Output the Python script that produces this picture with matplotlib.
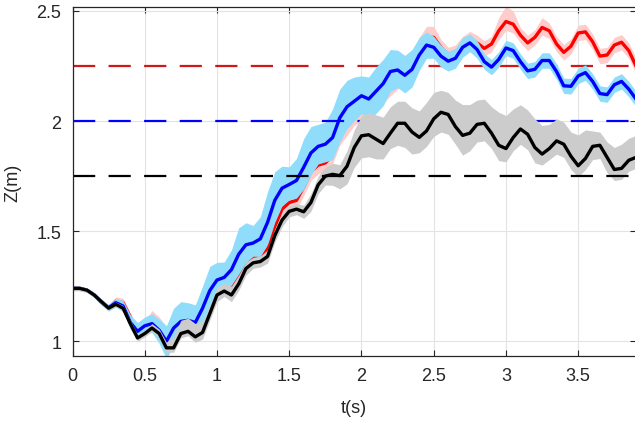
import numpy as np
import matplotlib
matplotlib.use("Agg")
import matplotlib.pyplot as plt

plt.rcParams['font.family'] = ['Liberation Sans', 'DejaVu Sans']

# sample grid (s), 0.05 s step
t = np.round(np.arange(79) * 0.05, 2)

# mean heights (m)
z_red = [1.240, 1.240, 1.232, 1.210, 1.178, 1.152, 1.182, 1.175, 1.110, 1.040,
         1.060, 1.110, 1.080, 1.035, 1.040, 1.080, 1.085, 1.060, 1.090, 1.170,
         1.240, 1.255, 1.245, 1.290, 1.345, 1.380, 1.385, 1.420, 1.520, 1.600,
         1.630, 1.640, 1.700, 1.770, 1.800, 1.810, 1.845, 1.930, 1.985, 2.030,
         2.050, 2.060, 2.085, 2.130, 2.165, 2.195, 2.215, 2.260, 2.330, 2.380,
         2.380, 2.335, 2.300, 2.310, 2.350, 2.372, 2.355, 2.330, 2.350, 2.410,
         2.452, 2.440, 2.390, 2.355, 2.380, 2.425, 2.410, 2.350, 2.312, 2.340,
         2.400, 2.405, 2.360, 2.295, 2.300, 2.345, 2.358, 2.320, 2.250]
z_blue = [1.240, 1.240, 1.232, 1.210, 1.178, 1.152, 1.175, 1.160, 1.085, 1.045,
          1.070, 1.080, 1.050, 1.000, 1.060, 1.090, 1.095, 1.085, 1.150, 1.230,
          1.278, 1.290, 1.325, 1.395, 1.438, 1.446, 1.465, 1.540, 1.640, 1.695,
          1.712, 1.730, 1.790, 1.855, 1.885, 1.895, 1.925, 2.015, 2.065, 2.090,
          2.115, 2.100, 2.135, 2.170, 2.225, 2.232, 2.208, 2.235, 2.300, 2.345,
          2.335, 2.295, 2.272, 2.285, 2.335, 2.355, 2.325, 2.270, 2.245, 2.280,
          2.332, 2.320, 2.270, 2.228, 2.235, 2.275, 2.275, 2.225, 2.160, 2.158,
          2.205, 2.220, 2.180, 2.125, 2.120, 2.165, 2.180, 2.145, 2.100]
z_black = [1.240, 1.240, 1.232, 1.210, 1.180, 1.150, 1.168, 1.150, 1.080, 1.015,
           1.035, 1.060, 1.035, 0.970, 0.970, 1.035, 1.045, 1.020, 1.040, 1.125,
           1.210, 1.228, 1.210, 1.260, 1.330, 1.356, 1.362, 1.385, 1.480, 1.550,
           1.590, 1.600, 1.588, 1.630, 1.710, 1.750, 1.758, 1.752, 1.795, 1.880,
           1.933, 1.938, 1.918, 1.898, 1.945, 1.990, 1.990, 1.950, 1.926, 1.955,
           2.010, 2.040, 2.030, 1.975, 1.935, 1.945, 1.985, 1.990, 1.945, 1.890,
           1.875, 1.925, 1.964, 1.940, 1.880, 1.850, 1.875, 1.910, 1.895, 1.840,
           1.797, 1.830, 1.885, 1.890, 1.835, 1.780, 1.785, 1.822, 1.835]

# band extents above / below each mean
red_up = [.01] * 6 + [.02] * 4 + [.03] * 10 + [.04] * 18 + [.05] * 13 \
    + [.035] * 8 + [.06, .07, .06] + [.035] * 3 + [.045] + [.035] * 13
red_dn = [.01] * 6 + [.02] * 4 + [.03] * 10 + [.04] * 18 + [.05] * 13 \
    + [.035] * 8 + [.04, .04, .04] + [.035] * 17
blue_up = [.010, .010, .010, .012, .015, .015, .020, .025, .035, .040,
           .040, .045, .050, .070, .090, .090, .080, .080, .100, .110,
           .080, .070, .090, .120, .100, .080, .100, .140, .130, .100,
           .080, .100, .130, .120, .100, .100, .130, .130, .120, .110,
           .090, .100, .110, .110, .100, .090, .090, .090, .080, .060,
           .050, .050, .045, .045, .045, .040, .040] + [.035] * 22
blue_dn = [.010, .010, .010, .012, .015, .015, .020, .025, .030, .030,
           .035, .040, .060, .080, .080, .070, .060, .060, .070, .080,
           .070, .060, .070, .090, .080, .060, .080, .100, .100, .080,
           .070, .080, .100, .100, .080, .080, .100, .110, .100, .090,
           .080, .090, .100, .100, .090, .080, .080, .080, .070, .060,
           .050, .050, .045, .045, .045, .040, .040] + [.035] * 22
black_up = [.010, .010, .010, .010, .010, .010, .010, .012, .015, .015,
            .015, .020, .020, .025, .050, .060, .060, .060, .050, .040,
            .035, .035, .040, .040, .030, .025, .025, .030, .030, .030,
            .025, .025, .030, .040, .040, .040, .050, .050, .070, .080,
            .090, .100, .110, .120, .120, .100, .100, .110, .120, .130,
            .120, .100, .100, .120, .140, .130, .110, .110, .120, .150,
            .150, .130, .110, .110, .130, .130, .110, .100, .100, .110,
            .140, .130, .070, .060, .070, .100, .110, .100, .100]
black_dn = [.010, .010, .010, .010, .010, .010, .010, .012, .015, .015,
            .015, .015, .020, .020, .020, .020, .020, .025, .030, .030,
            .030, .025, .030, .030, .030, .025, .025, .030, .030, .030,
            .025, .025, .030, .040, .040, .040, .050, .060, .080, .090,
            .100, .100, .090, .070, .070, .100, .110, .100, .070, .070,
            .080, .090, .090, .080, .090, .080, .080, .080, .070, .070,
            .060, .060, .070, .070, .070, .050, .050, .060, .060, .060,
            .050, .050, .060, .060, .070, .050, .050, .050, .050]

targets = [2.25, 2.0, 1.75]

series = [
    (z_red, red_up, red_dn, '#FF0000', '#FFCCCC', '#D01818', targets[0]),
    (z_blue, blue_up, blue_dn, '#0000FF', '#8FDDFA', '#0000FF', targets[1]),
    (z_black, black_up, black_dn, '#000000', '#CCCCCC', '#000000', targets[2]),
]

fig = plt.figure(figsize=(6.35, 4.27), dpi=100)
ax = fig.add_axes([72.5 / 635, 1 - 357 / 427, 563.5 / 635, 349 / 427])

zo = 2
for z, up, dn, lc, fc, dc, ref in series:
    z = np.array(z)
    ax.fill_between(t, z - np.array(dn), z + np.array(up), color=fc, lw=0, zorder=zo)
    ax.plot(t, z, color=lc, lw=2.4, solid_joinstyle='round', zorder=zo + 1)
    ax.axhline(ref, color=dc, lw=1.6, dashes=(10, 6), zorder=zo + 2)
    zo += 3

ax.set_xlim(0, 3.9)
ax.set_ylim(0.933, 2.518)
ax.set_xticks([0, 0.5, 1, 1.5, 2, 2.5, 3, 3.5])
ax.set_xticklabels(['0', '0.5', '1', '1.5', '2', '2.5', '3', '3.5'])
ax.set_yticks([1, 1.5, 2, 2.5])
ax.set_yticklabels(['1', '1.5', '2', '2.5'])
ax.grid(True, color='#E3E3E3', lw=0.8, zorder=0)
ax.set_axisbelow(True)
ax.tick_params(direction='in', length=4, width=0.8, colors='#262626',
               labelsize=13, top=True, right=True, pad=8)
for s in ax.spines.values():
    s.set_color('#262626')
    s.set_linewidth(0.9)
    s.set_zorder(20)
ax.set_xlabel('t(s)', fontsize=13, color='#262626', labelpad=11)
ax.set_ylabel('Z(m)', fontsize=13, color='#262626', labelpad=11)

fig.savefig('out.png', dpi=100)
